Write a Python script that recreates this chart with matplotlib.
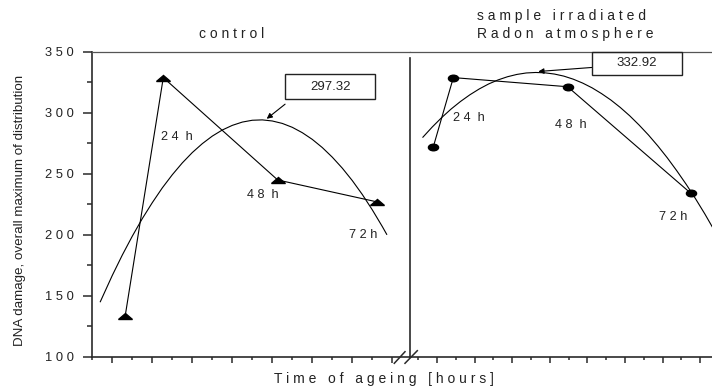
import numpy as np
import matplotlib
matplotlib.use("Agg")
import matplotlib.pyplot as plt
from matplotlib.markers import MarkerStyle
from matplotlib.transforms import Affine2D
from matplotlib.patches import Rectangle
from matplotlib.lines import Line2D
from matplotlib.ticker import MultipleLocator, FuncFormatter

plt.rcParams['font.family'] = ['Liberation Sans', 'DejaVu Sans']

# control (triangles) - x in tick units of the left panel
ctrl_x = [0.64, 2.55, 8.27, 13.24]
ctrl_y = [133, 329, 245, 227]
# fitted curve
ctrl_fit_x = [-0.6, 0, 0.5, 1, 1.5, 2, 2.5, 3, 3.5, 4, 4.5, 5, 5.5, 6, 6.5, 7, 7.5,
              8, 8.5, 9, 9.5, 10, 10.5, 11, 11.5, 12, 12.5, 13, 13.5, 13.72]
ctrl_fit_y = [145.1, 166.7, 183.4, 198.9, 213.3, 226.4, 238.5, 249.3, 259.0, 267.5,
              274.8, 281.0, 286.0, 289.8, 292.5, 294.0, 294.3, 293.4, 291.4, 288.2,
              283.8, 278.3, 271.6, 263.7, 254.7, 244.5, 233.1, 220.5, 206.8, 200.4]
ctrl_max = "297.32"

# irradiated in Radon atmosphere (dots)
rad_x = [-0.20, 0.87, 6.95, 13.51]
rad_y = [272, 329, 321.5, 234]
rad_fit_x = [-0.75, -0.25, 0.25, 0.75, 1.25, 1.75, 2.25, 2.75, 3.25, 3.75, 4.25, 4.75,
             5.25, 5.75, 6.25, 6.75, 7.25, 7.75, 8.25, 8.75, 9.25, 9.75, 10.25, 10.75,
             11.25, 11.75, 12.25, 12.75, 13.25, 13.75, 14.25, 14.75, 15.0]
rad_fit_y = [280.1, 288.5, 296.2, 303.2, 309.4, 314.9, 319.7, 323.8, 327.1, 329.7,
             331.6, 332.8, 333.2, 332.9, 331.9, 330.2, 327.7, 324.5, 320.6, 315.9,
             310.6, 304.5, 297.7, 290.1, 281.9, 272.9, 263.2, 252.7, 241.6, 229.7,
             217.1, 203.7, 196.8]
rad_max = "332.92"

hour_labels = ["2 4  h", "4 8  h", "7 2 h"]
ctrl_lab_pos = [(3.24, 280.4), (7.51, 232.8), (12.55, 199.9)]
rad_lab_pos = [(1.69, 295.7), (7.13, 289.7), (12.55, 214.9)]

W, H = 712, 391
fig = plt.figure(figsize=(W / 100, H / 100), dpi=100)
axL = fig.add_axes([92.3 / W, 34.3 / H, 317.7 / W, 304.7 / H])
axR = fig.add_axes([410 / W, 34.3 / H, 302 / W, 304.7 / H])

spine_col = '#2a2a2a'
for ax in (axL, axR):
    ax.set_ylim(100, 350)
    ax.xaxis.set_major_locator(MultipleLocator(2))
    ax.xaxis.set_minor_locator(MultipleLocator(1))
    ax.tick_params(axis='x', which='major', direction='out', length=4.5, width=1.1,
                   colors=spine_col, labelbottom=False)
    ax.tick_params(axis='x', which='minor', direction='out', length=2.3, width=1.1,
                   colors=spine_col)
    for s in ax.spines.values():
        s.set_color(spine_col)
    ax.spines['bottom'].set_linewidth(1.2)
    ax.spines['top'].set_linewidth(0.9)
    ax.spines['top'].set_color('#555555')
    ax.spines['right'].set_visible(False)

axL.set_xlim(-1, 14.885)
axR.set_xlim(-1.436, 14.63)

axL.spines['left'].set_linewidth(1.2)
axL.yaxis.set_major_locator(MultipleLocator(50))
axL.yaxis.set_minor_locator(MultipleLocator(25))
axL.yaxis.set_major_formatter(FuncFormatter(lambda v, p: ' '.join(str(int(v)))))
axL.tick_params(axis='y', which='major', direction='out', length=6.5, width=1.1,
                pad=7, labelsize=9.3, colors=spine_col)
axL.tick_params(axis='y', which='minor', direction='out', length=3.5, width=1.1,
                colors=spine_col)
for lab in axL.get_yticklabels():
    lab.set_color('#222222')

axR.tick_params(axis='y', which='both', left=False, labelleft=False)
axR.spines['left'].set_bounds(100, 345)
axR.spines['left'].set_linewidth(1.2)

tri = MarkerStyle('^', transform=Affine2D().scale(1.0, 0.45))
dot = MarkerStyle('o', transform=Affine2D().scale(1.0, 0.65))

axL.plot(ctrl_x, ctrl_y, color='k', lw=0.8, marker=tri, ms=9.5, zorder=3)
axL.plot(ctrl_fit_x, ctrl_fit_y, color='k', lw=0.8)
axR.plot(rad_x, rad_y, color='k', lw=0.8, marker=dot, ms=7.3, zorder=3)
axR.plot(rad_fit_x, rad_fit_y, color='k', lw=0.8)

for ax, pos in ((axL, ctrl_lab_pos), (axR, rad_lab_pos)):
    for txt, (tx, ty) in zip(hour_labels, pos):
        ax.text(tx, ty, txt, ha='center', va='center', fontsize=9.2, color='#222222')

# boxed maxima with arrows
def max_box(ax, text, head, tail, x0, x1, y0, y1):
    ax.add_patch(Rectangle((x0, y0), x1 - x0, y1 - y0, fill=False, ec='#222222',
                           lw=1.0, clip_on=False, zorder=4))
    ax.text((x0 + x1) / 2, (y0 + y1) / 2, text, ha='center', va='center',
            fontsize=9.5, color='#222222')
    ax.annotate('', xy=head, xytext=tail, annotation_clip=False,
                arrowprops=dict(arrowstyle='-|>', color='k', lw=0.8,
                                mutation_scale=8, shrinkA=0, shrinkB=0))

max_box(axL, ctrl_max, (7.72, 295.2), (8.64, 307.2), 8.64, 13.14, 311.3, 331.9)
max_box(axR, rad_max, (5.39, 334.0), (8.23, 337.3), 8.23, 13.02, 331.3, 350.4)

# axis break marks
for (x0, y0, x1, y1) in [(394.3, 363.3, 405, 351.7), (405, 363.3, 417.3, 350.7)]:
    fig.add_artist(Line2D([x0 / W, x1 / W], [1 - y0 / H, 1 - y1 / H],
                          color=spine_col, lw=1.1, transform=fig.transFigure))

fig.text(231.5 / W, 1 - 34 / H, "c o n t r o l", ha='center', va='center',
         fontsize=10, color='#222222')
fig.text(476.7 / W, 1 - 16 / H, "s a m p l e   i r r a d i a t e d", ha='left',
         va='center', fontsize=10, color='#222222')
fig.text(476.7 / W, 1 - 34 / H, "R a d o n   a t m o s p h e r e", ha='left',
         va='center', fontsize=10, color='#222222')
fig.text(20 / W, 1 - 210 / H, "DNA damage, overall maximum of distribution",
         rotation=90, ha='center', va='center', fontsize=9.65, color='#222222')
fig.text(384.2 / W, 1 - 378.7 / H, "T i m e   o f   a g e i n g   [ h o u r s ]",
         ha='center', va='center', fontsize=10, color='#222222')

fig.savefig("out.png", dpi=100)
